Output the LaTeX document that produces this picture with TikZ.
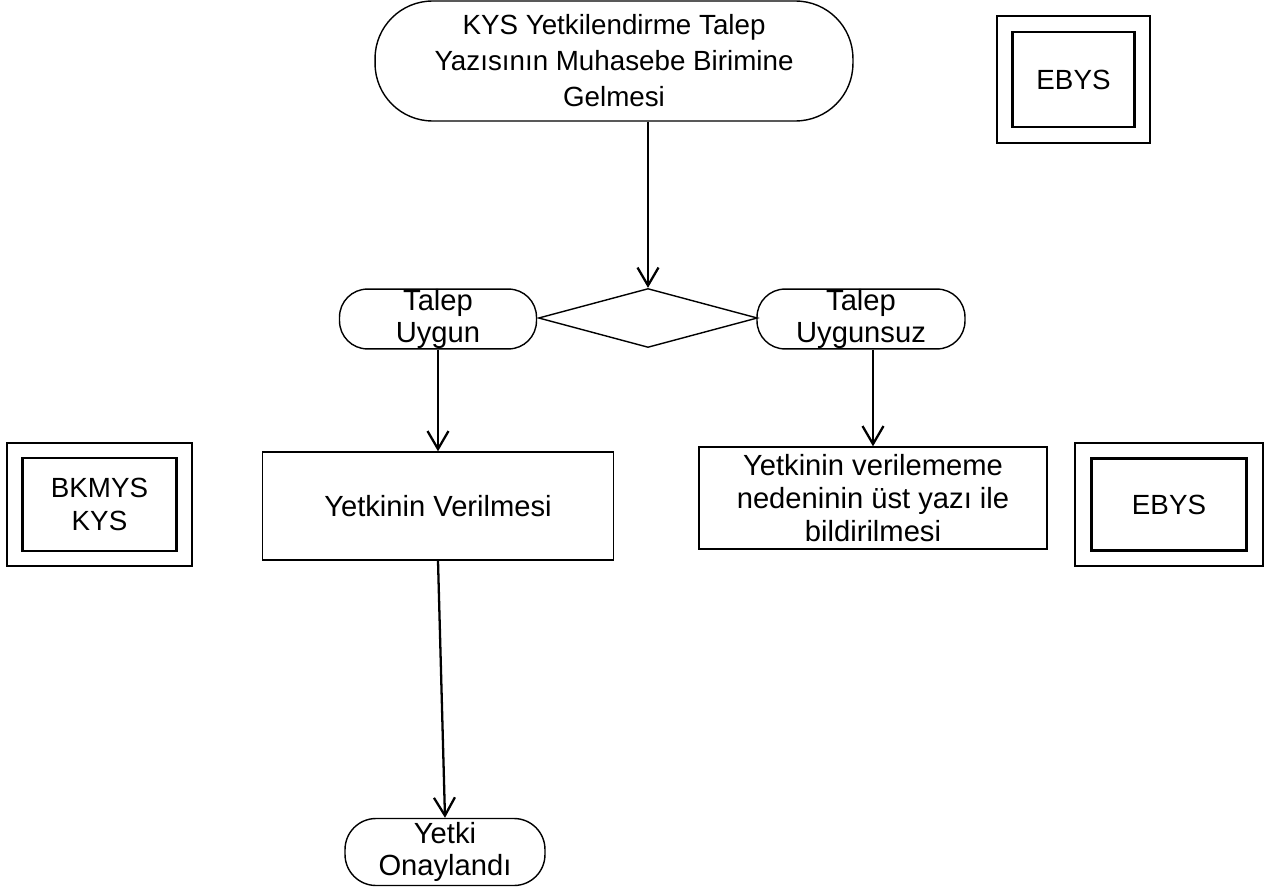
\documentclass[tikz,border=0pt]{standalone}
\usepackage{fontspec}
\setmainfont{Liberation Sans}
\usepackage{tikz}
\usetikzlibrary{shapes.geometric, arrows.meta}

\tikzset{
  terminal/.style={draw, line width=0.8pt, rounded corners=0.56cm, align=center, inner sep=0pt},
  process/.style={draw, line width=0.8pt, rectangle, align=center, inner sep=0pt},
  decision/.style={draw, line width=0.8pt, diamond, inner sep=0pt},
  outerframe/.style={draw, line width=1.6pt, inner sep=0pt},
  innerframe/.style={draw, line width=1.6pt, align=center, inner sep=0pt},
  flow/.style={line width=1.3pt, -{Straight Barb[length=3.6mm, width=4.2mm, line width=1.3pt]}}
}

\begin{document}
\begin{tikzpicture}[x=0.02cm, y=-0.02cm,
    every node/.style={font=\fontsize{16.6}{18.6}\selectfont}]
  \useasboundingbox (0,0) rectangle (1271,895);

  % Main flow
  \node[terminal, rounded corners=1.15cm, minimum width=9.56cm, minimum height=2.4cm,
        font=\fontsize{15.8}{20.5}\selectfont] (basla) at (614,61)
        {KYS Yetkilendirme Talep\\Yazısının Muhasebe Birimine\\Gelmesi};
  \node[decision, minimum width=4.38cm, minimum height=1.18cm] (karar) at (648,318) {};
  \node[terminal, minimum width=3.94cm, minimum height=1.18cm] (uygun) at (438,319) {Talep\\Uygun};
  \node[terminal, minimum width=4.16cm, minimum height=1.18cm] (uygunsuz) at (861,319) {Talep\\Uygunsuz};
  \node[process, minimum width=7.02cm, minimum height=2.16cm] (verilme) at (438,506) {Yetkinin Verilmesi};
  \node[process, minimum width=6.96cm, minimum height=2.04cm] (bildir) at (873,498)
        {Yetkinin verilememe\\nedeninin üst yazı ile\\bildirilmesi};
  \node[terminal, rounded corners=0.62cm, minimum width=4.0cm, minimum height=1.34cm] (onay) at (445,852)
        {Yetki\\Onaylandı};

  % Arrows
  \draw[flow] (basla.south -| karar.north) -- (karar.north);
  \draw[flow] (uygun.south) -- (verilme.north);
  \draw[flow] (uygunsuz.south -| bildir.north) -- (bildir.north);
  \draw[flow] (verilme.south) -- (onay.north);

  % System labels (double frames)
  \foreach \nm/\px/\py/\ow/\oh/\iw/\ih/\txt in {
      ebysA/1073.5/79.5/3.06/2.54/2.44/1.9/EBYS,
      bkmys/99.5/504.5/3.7/2.46/3.08/1.86/{BKMYS\\KYS},
      ebysB/1169/504.5/3.76/2.46/3.1/1.84/EBYS}
  {
    \node[outerframe, minimum width=\ow cm, minimum height=\oh cm] (\nm) at (\px,\py) {};
    \node[innerframe, minimum width=\iw cm, minimum height=\ih cm, font=\fontsize{15.8}{18.6}\selectfont] (\nm-in) at (\nm) {\txt};
  }
\end{tikzpicture}
\end{document}
